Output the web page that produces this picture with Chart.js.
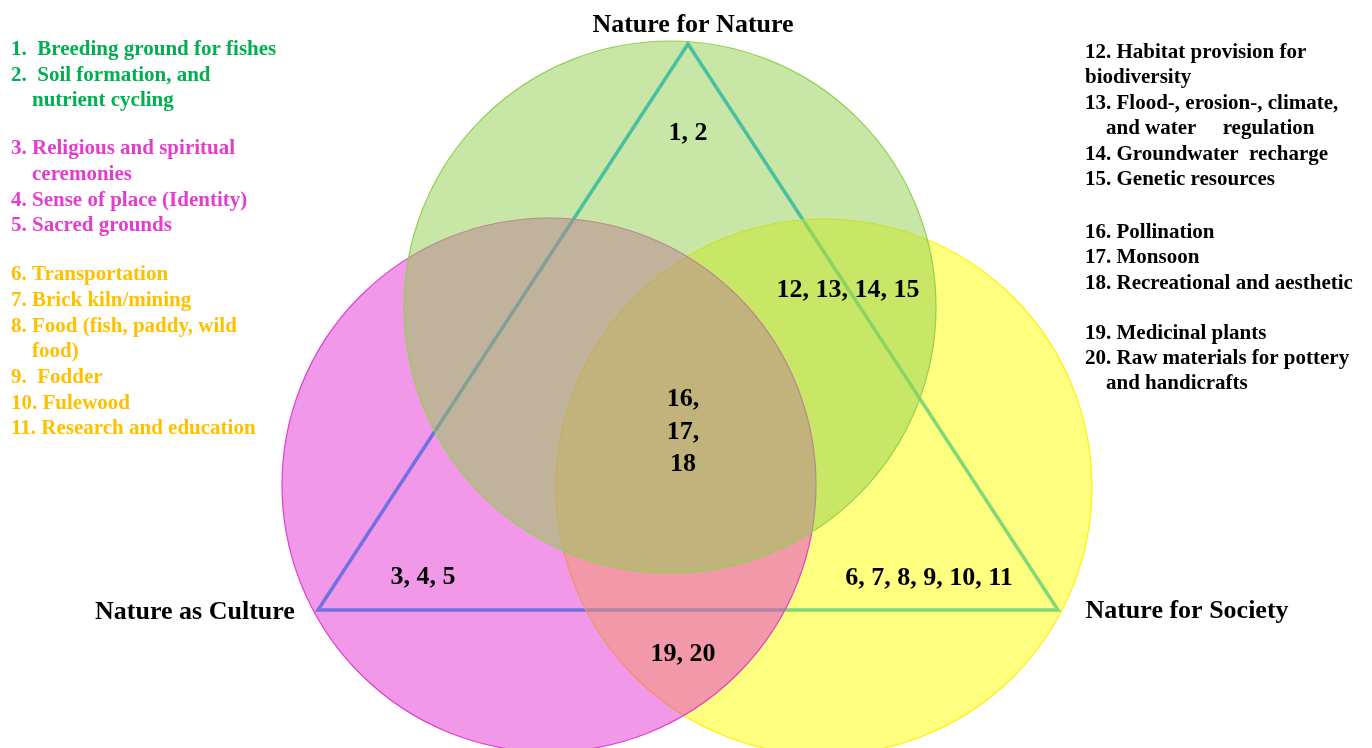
<!DOCTYPE html>
<html>
<head>
<meta charset="utf-8">
<title>Nature's contributions Venn diagram</title>
<script src="https://cdn.jsdelivr.net/npm/chart.js@4.4.1/dist/chart.umd.min.js"></script>
<style>
	html, body { margin: 0; padding: 0; background: #ffffff; overflow: hidden; }
	#venn_chart { display: block; }
</style>
</head>
<body>
<canvas id="venn_chart" width="1372" height="748"></canvas>
<script>
// circles of the diagram, in picture units (x to the right, y downward)
const circle_names = ['Nature for Society', 'Nature as Culture', 'Nature for Nature'];
const circle_x = [824, 549, 670];
const circle_y = [487, 485, 307];
const circle_r = [268, 267, 266];

// triangle joining the three perspectives (apex, left, right)
const triangle_x = [688, 318, 1058, 688, 318];
const triangle_y = [44, 610, 610, 44, 610];

// perspective titles and where they sit
const title_labels = ['Nature for Nature', 'Nature as Culture', 'Nature for Society'];
const title_x = [693, 195, 1187];
const title_y = [32, 619, 618];

// numbers written inside each region
const region_labels = ['1, 2', '3, 4, 5', '6, 7, 8, 9, 10, 11', '12, 13, 14, 15', '16,', '17,', '18', '19, 20'];
const region_x = [688, 423, 929, 848, 683, 683, 683, 683];
const region_y = [140, 584, 585, 297, 406, 439, 471, 661];

// left hand key
const nature_lines = [
	'1.  Breeding ground for fishes',
	'2.  Soil formation, and',
	'    nutrient cycling'
];
const culture_lines = [
	'3. Religious and spiritual',
	'    ceremonies',
	'4. Sense of place (Identity)',
	'5. Sacred grounds'
];
const society_lines = [
	'6. Transportation',
	'7. Brick kiln/mining',
	'8. Food (fish, paddy, wild',
	'    food)',
	'9.  Fodder',
	'10. Fulewood',
	'11. Research and education'
];

// right hand key
const shared_lines_a = [
	'12. Habitat provision for',
	'biodiversity',
	'13. Flood-, erosion-, climate,',
	'    and water     regulation',
	'14. Groundwater  recharge',
	'15. Genetic resources'
];
const shared_lines_b = [
	'16. Pollination',
	'17. Monsoon',
	'18. Recreational and aesthetic'
];
const shared_lines_c = [
	'19. Medicinal plants',
	'20. Raw materials for pottery',
	'    and handicrafts'
];

const SERIF = '"Liberation Serif", "Times New Roman", serif';

function px(chart, v){
	return chart.scales.x.getPixelForValue(v);
}
function py(chart, v){
	return chart.scales.y.getPixelForValue(v);
}

function drawBlock(ctx, chart, lines, x, y, lineH, color){
	/*
	Writes a block of key lines, returns the baseline after the last one.
	*/
	ctx.fillStyle = color;
	for (let i = 0; i < lines.length; i++) {
		ctx.fillText(lines[i], px(chart, x), py(chart, y + i * lineH));
	}
	return y + lines.length * lineH;
}

const textPlugin = {
	id: 'vennText',
	afterDatasetsDraw(chart){
		const ctx = chart.ctx;
		ctx.save();
		ctx.textBaseline = 'alphabetic';

		// titles
		ctx.font = 'bold 26px ' + SERIF;
		ctx.textAlign = 'center';
		ctx.fillStyle = '#000000';
		for (let i = 0; i < title_labels.length; i++) {
			ctx.fillText(title_labels[i], px(chart, title_x[i]), py(chart, title_y[i]));
		}

		// region numbers
		for (let i = 0; i < region_labels.length; i++) {
			ctx.fillText(region_labels[i], px(chart, region_x[i]), py(chart, region_y[i]));
		}

		// keys
		ctx.font = 'bold 21px ' + SERIF;
		ctx.textAlign = 'left';
		let y = 55;
		y = drawBlock(ctx, chart, nature_lines, 11, y, 25.6, '#00B050');
		y = drawBlock(ctx, chart, culture_lines, 11, y + 22.6, 25.6, '#E33DD0');
		drawBlock(ctx, chart, society_lines, 11, y + 23.4, 25.7, '#FFC000');

		y = 57.5;
		y = drawBlock(ctx, chart, shared_lines_a, 1085, y, 25.5, '#000000');
		y = drawBlock(ctx, chart, shared_lines_b, 1085, y + 27, 25.8, '#000000');
		drawBlock(ctx, chart, shared_lines_c, 1085, y + 24.5, 25, '#000000');

		ctx.restore();
	}
};

function circleRadius(c){
	/*
	Turns a circle radius in picture units into pixels through the x scale.
	*/
	const s = c.chart.scales.x;
	const span = (s.max - s.min) || (s.options.max - s.options.min);
	const width = s.width || c.chart.width;
	return circle_r[c.dataIndex] * width / span;
}

function createVennChart(){
	/*
	Builds the three circle diagram.
	*/
	const ctx = document.getElementById('venn_chart').getContext('2d');

	const circle_points = [];
	for (let i = 0; i < circle_names.length; i++) {
		circle_points.push({x: circle_x[i], y: circle_y[i]});
	}
	const triangle_points = [];
	for (let i = 0; i < triangle_x.length; i++) {
		triangle_points.push({x: triangle_x[i], y: triangle_y[i]});
	}

	const venn_chart = new Chart(ctx, {
		type: 'bubble',
		data: {
			datasets: [{
				label: 'perspectives',
				data: circle_points,
				order: 0,
				radius: circleRadius,
				backgroundColor: [
					'rgba(255, 255, 0, 0.5)',
					'rgba(229, 49, 209, 0.5)',
					'rgba(146, 208, 80, 0.5)'
				],
				borderColor: [
					'rgba(255, 240, 0, 1)',
					'rgba(224, 64, 208, 1)',
					'rgba(146, 208, 80, 1)'
				],
				borderWidth: 1.2,
				clip: false
			}, {
				type: 'scatter',
				label: 'triangle',
				data: triangle_points,
				order: 1,
				showLine: true,
				borderColor: '#00B0F0',
				borderWidth: 3.5,
				borderJoinStyle: 'miter',
				pointRadius: 0,
				fill: false,
				tension: 0
			}]
		},
		options: {
			responsive: false,
			animation: false,
			events: [],
			layout: { padding: 0, autoPadding: false },
			scales: {
				x: { type: 'linear', min: 0, max: 1372, display: false },
				y: { type: 'linear', min: 0, max: 748, reverse: true, display: false }
			},
			plugins: {
				legend: { display: false },
				tooltip: { enabled: false }
			}
		},
		plugins: [textPlugin]
	});
}

createVennChart();
</script>
</body>
</html>
